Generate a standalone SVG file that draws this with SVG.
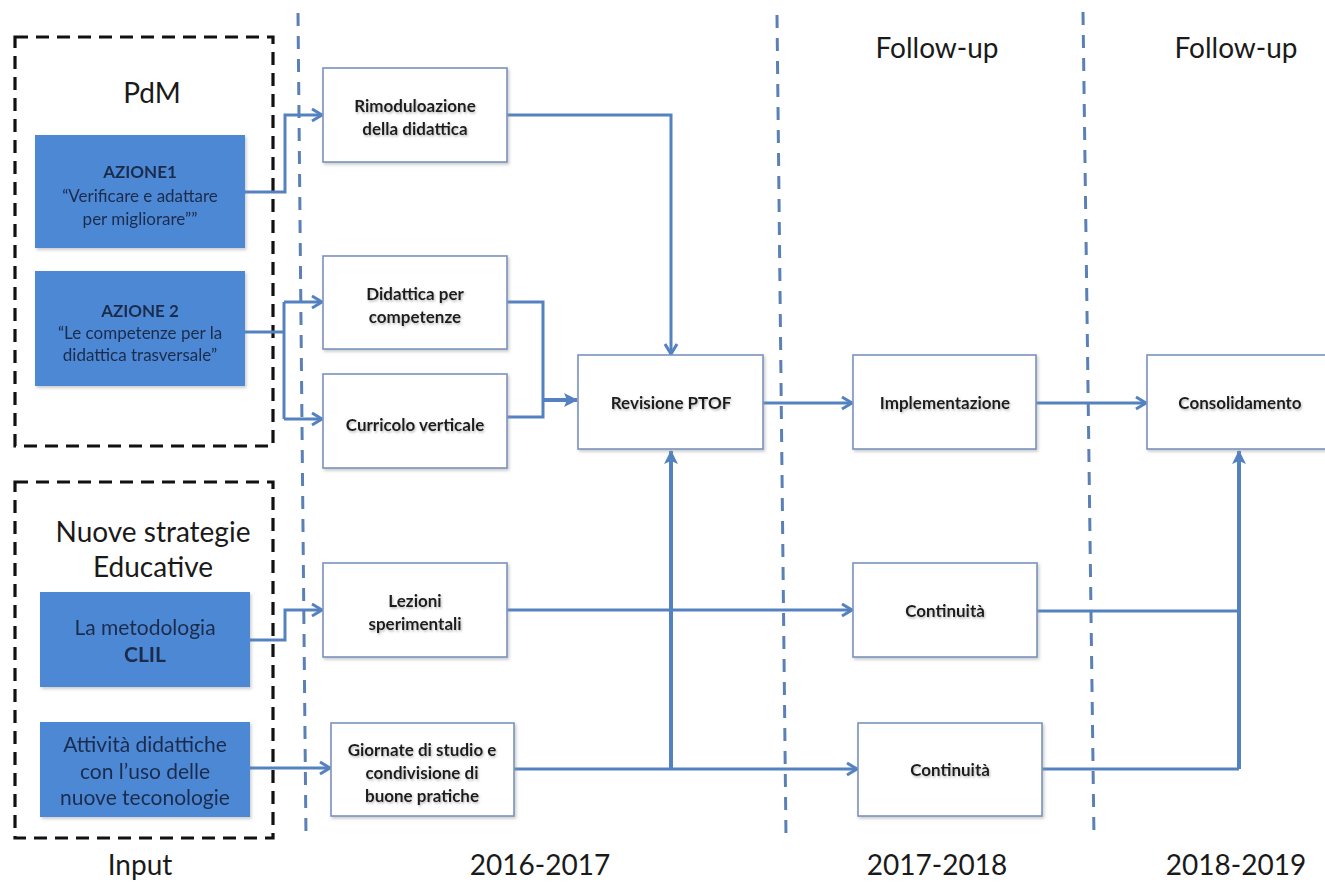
<svg xmlns="http://www.w3.org/2000/svg" width="1325" height="885" viewBox="0 0 1325 885">
<style>
.title{font-family:Lato,"Open Sans",sans-serif;font-size:28px;fill:#1a1a1a;text-anchor:middle}
.bt{font-family:Lato,"Open Sans",sans-serif;font-size:17px;fill:#1b2c4c;text-anchor:middle}
.bt2{font-family:Lato,"Open Sans",sans-serif;font-size:21px;fill:#1b2c4c;text-anchor:middle}
.b{font-weight:bold}
.wt{font-family:Lato,"Open Sans",sans-serif;font-size:17px;font-weight:bold;fill:#1a1a1a;text-anchor:middle}
.blue{fill:#4d88d5}
.wbox{fill:#ffffff;stroke:#7a93bd;stroke-width:1.6}
.frame{fill:none;stroke:#111;stroke-width:3.2;stroke-dasharray:13 8}
.vdash{fill:none;stroke:#5b80b6;stroke-width:3;stroke-dasharray:13 10}
.c{fill:none;stroke:#5482c0;stroke-width:3}
.ct{fill:none;stroke:#5482c0;stroke-width:4}
</style>
<defs>
<marker id="open" markerUnits="userSpaceOnUse" markerWidth="16" markerHeight="16" refX="13" refY="8" orient="auto">
<path d="M3,2 L13,8 L3,14" fill="none" stroke="#5482c0" stroke-width="3"/>
</marker>
<marker id="fill" markerUnits="userSpaceOnUse" markerWidth="18" markerHeight="18" refX="15" refY="9" orient="auto">
<path d="M2,2 L16,9 L2,16 L5,9 Z" fill="#5482c0"/>
</marker>
<filter id="sh" x="-10%" y="-10%" width="130%" height="140%">
<feDropShadow dx="1.5" dy="2" stdDeviation="1.5" flood-color="#999" flood-opacity="0.5"/>
</filter>
<filter id="tsh" x="-10%" y="-30%" width="120%" height="160%">
<feDropShadow dx="1" dy="1.5" stdDeviation="1" flood-color="#888" flood-opacity="0.6"/>
</filter>
</defs>
<rect width="1325" height="885" fill="#ffffff"/>

<g id="dividers">
<line class="vdash" x1="298" y1="13" x2="306" y2="838"/>
<line class="vdash" x1="777" y1="15" x2="786" y2="838"/>
<line class="vdash" x1="1083" y1="12" x2="1094" y2="838"/>
</g>

<g id="frame-pdm">
<rect class="frame" x="15" y="37" width="258" height="409"/>
<text class="title" x="152" y="103">PdM</text>
</g>
<g id="frame-strategie">
<rect class="frame" x="15" y="482" width="258" height="356"/>
<text class="title" x="153" y="542">Nuove strategie</text>
<text class="title" x="153" y="577">Educative</text>
</g>

<g id="labels">
<text class="title" x="937" y="58">Follow-up</text>
<text class="title" x="1236" y="58">Follow-up</text>
<text class="title" x="140" y="875">Input</text>
<text class="title" x="540" y="875">2016-2017</text>
<text class="title" x="937" y="875">2017-2018</text>
<text class="title" x="1236" y="875">2018-2019</text>
</g>

<g id="azione1" filter="url(#sh)">
<rect class="blue" x="35" y="135" width="210" height="113"/>
<text class="bt b" x="140" y="178">AZIONE1</text>
<text class="bt" x="140" y="202">“Verificare e adattare</text>
<text class="bt" x="140" y="225">per migliorare””</text>
</g>
<g id="azione2" filter="url(#sh)">
<rect class="blue" x="35" y="271" width="210" height="115"/>
<text class="bt b" x="140" y="317">AZIONE 2</text>
<text class="bt" x="140" y="339">“Le competenze per la</text>
<text class="bt" x="140" y="361">didattica trasversale”</text>
</g>
<g id="clil" filter="url(#sh)">
<rect class="blue" x="40" y="592" width="210" height="95"/>
<text class="bt2" x="145" y="635">La metodologia</text>
<text class="bt2 b" x="145" y="662">CLIL</text>
</g>
<g id="attivita" filter="url(#sh)">
<rect class="blue" x="40" y="722" width="210" height="95"/>
<text class="bt2" x="145" y="752">Attività didattiche</text>
<text class="bt2" x="145" y="779">con l’uso delle</text>
<text class="bt2" x="145" y="805">nuove teconologie</text>
</g>

<g id="connectors">
<polyline class="c" points="245,192 285,192 285,115 322,115" marker-end="url(#open)"/>
<polyline class="c" points="245,332 284,332"/>
<polyline class="c" points="284,302 284,419"/>
<polyline class="c" points="284,302 322,302" marker-end="url(#open)"/>
<polyline class="c" points="284,419 322,419" marker-end="url(#open)"/>
<polyline class="c" points="250,640 285,640 285,610 322,610" marker-end="url(#open)"/>
<polyline class="c" points="250,768 330,768" marker-end="url(#open)"/>
<polyline class="c" points="507,115 671,115 671,354" marker-end="url(#open)"/>
<polyline class="c" points="507,302 543,302 543,417 507,417"/>
<polyline class="ct" points="543,400 577,400" marker-end="url(#fill)"/>
<polyline class="c" points="507,610 852,610" marker-end="url(#open)"/>
<polyline class="c" points="514,769 857,769" marker-end="url(#open)"/>
<polyline class="ct" points="671,769 671,451" marker-end="url(#fill)"/>
<polyline class="c" points="763,403 852,403" marker-end="url(#open)"/>
<polyline class="c" points="1036,403 1146,403" marker-end="url(#open)"/>
<polyline class="c" points="1037,611 1239,611"/>
<polyline class="c" points="1042,769 1239,769"/>
<polyline class="ct" points="1239,769 1239,451" marker-end="url(#fill)"/>
</g>

<g id="rimodulazione">
<rect class="wbox" filter="url(#sh)" x="323" y="68" width="184" height="94"/>
<text class="wt" filter="url(#tsh)" x="415" y="112">Rimoduloazione</text>
<text class="wt" filter="url(#tsh)" x="415" y="135">della didattica</text>
</g>
<g id="didattica">
<rect class="wbox" filter="url(#sh)" x="323" y="256" width="184" height="93"/>
<text class="wt" filter="url(#tsh)" x="415" y="300">Didattica per</text>
<text class="wt" filter="url(#tsh)" x="415" y="323">competenze</text>
</g>
<g id="curricolo">
<rect class="wbox" filter="url(#sh)" x="323" y="374" width="184" height="94"/>
<text class="wt" filter="url(#tsh)" x="415" y="431">Curricolo verticale</text>
</g>
<g id="revisione">
<rect class="wbox" filter="url(#sh)" x="578" y="355" width="185" height="94"/>
<text class="wt" filter="url(#tsh)" x="671" y="409">Revisione PTOF</text>
</g>
<g id="implementazione">
<rect class="wbox" filter="url(#sh)" x="853" y="355" width="183" height="94"/>
<text class="wt" filter="url(#tsh)" x="945" y="409">Implementazione</text>
</g>
<g id="consolidamento">
<rect class="wbox" filter="url(#sh)" x="1147" y="355" width="184" height="94"/>
<text class="wt" filter="url(#tsh)" x="1240" y="409">Consolidamento</text>
</g>
<g id="lezioni">
<rect class="wbox" filter="url(#sh)" x="323" y="563" width="184" height="94"/>
<text class="wt" filter="url(#tsh)" x="415" y="607">Lezioni</text>
<text class="wt" filter="url(#tsh)" x="415" y="630">sperimentali</text>
</g>
<g id="giornate">
<rect class="wbox" filter="url(#sh)" x="331" y="723" width="183" height="93"/>
<text class="wt" filter="url(#tsh)" x="422" y="756">Giornate di studio e</text>
<text class="wt" filter="url(#tsh)" x="422" y="779">condivisione di</text>
<text class="wt" filter="url(#tsh)" x="422" y="802">buone pratiche</text>
</g>
<g id="continuita1">
<rect class="wbox" filter="url(#sh)" x="853" y="563" width="184" height="94"/>
<text class="wt" filter="url(#tsh)" x="945" y="617">Continuità</text>
</g>
<g id="continuita2">
<rect class="wbox" filter="url(#sh)" x="858" y="723" width="184" height="93"/>
<text class="wt" filter="url(#tsh)" x="950" y="776">Continuità</text>
</g>
</svg>
